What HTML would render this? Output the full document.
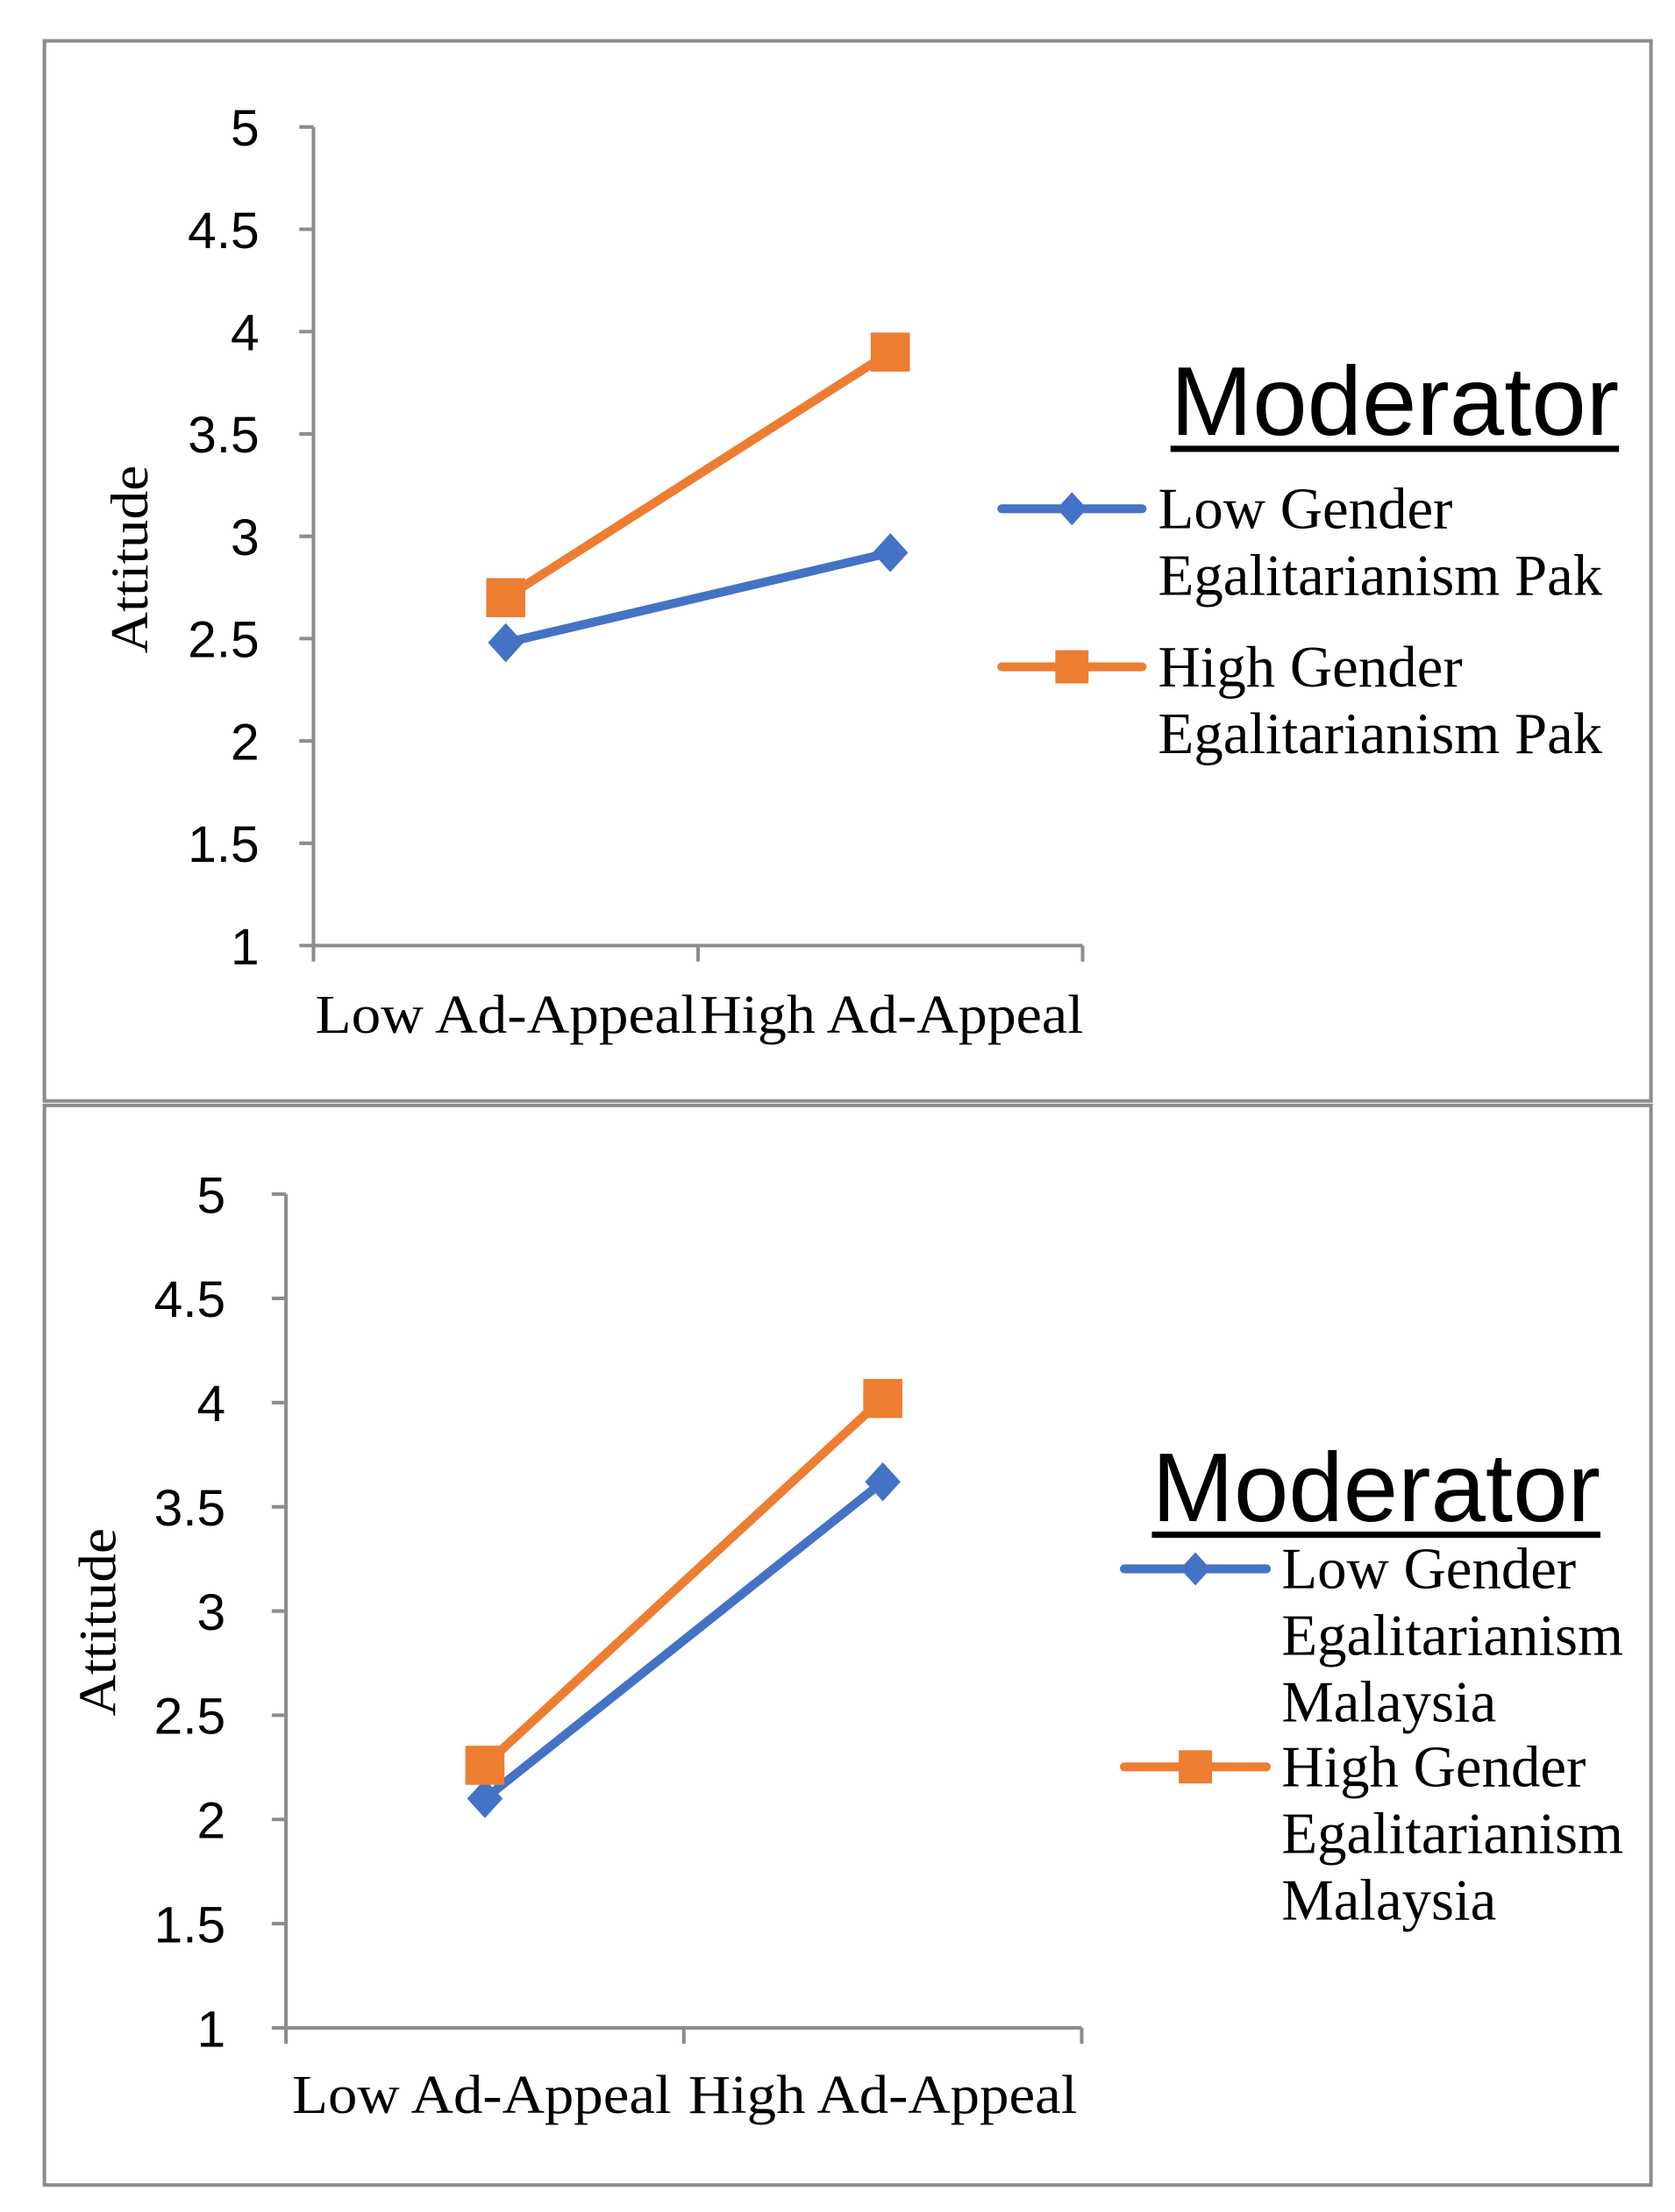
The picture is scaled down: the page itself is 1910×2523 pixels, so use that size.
<!DOCTYPE html>
<html><head><meta charset="utf-8"><style>
html,body{margin:0;padding:0;background:#fff;}
svg{display:block;}
.tick{font-family:"Liberation Sans Narrow","Liberation Sans",sans-serif;font-size:58px;fill:#000;}
.ser{font-family:"Liberation Serif",serif;fill:#000;}
.mod{font-family:"Liberation Sans Narrow","Liberation Sans",sans-serif;font-size:110px;fill:#000;}
</style></head><body>
<svg id="chart" width="1910" height="2523" viewBox="0 0 1910 2523" xmlns="http://www.w3.org/2000/svg">
<rect x="0" y="0" width="1910" height="2523" fill="#fff"/>
<g transform="scale(1.0127)">
<rect x="50" y="46" width="1809" height="1194" fill="none" stroke="#8c8c8c" stroke-width="4"/>
<rect x="50" y="1245" width="1809" height="1216" fill="none" stroke="#8c8c8c" stroke-width="4"/>
<g id="p1"></g>
<g id="p2"></g>
</g>
</svg>
<script>
const categories = ["Low Ad-Appeal", "High Ad-Appeal"];
const yTicks = [1, 1.5, 2, 2.5, 3, 3.5, 4, 4.5, 5];
const yTickLabels = ["1", "1.5", "2", "2.5", "3", "3.5", "4", "4.5", "5"];
const pakLow = [2.48, 2.92];
const pakHigh = [2.70, 3.90];
const malLow = [2.10, 3.62];
const malHigh = [2.26, 4.02];
const pakLegend = [["Low Gender", "Egalitarianism Pak"], ["High Gender", "Egalitarianism Pak"]];
const malLegend = [["Low Gender", "Egalitarianism", "Malaysia"], ["High Gender", "Egalitarianism", "Malaysia"]];

const NS = "http://www.w3.org/2000/svg";
function mk(parent, tag, attrs, text) {
  const e = document.createElementNS(NS, tag);
  for (const k in attrs) e.setAttribute(k, attrs[k]);
  if (text !== undefined) e.textContent = text;
  parent.appendChild(e);
  return e;
}
const BLUE = "#4472C4", ORANGE = "#ED7D31", AX = "#8c8c8c";

function drawChart(g, cfg, lowVals, highVals, legend) {
  const y = v => cfg.y1 + (v - 1) / 4 * (cfg.y5 - cfg.y1);
  const bw = (cfg.x1 - cfg.x0) / categories.length;
  const x = i => cfg.x0 + bw * (i + 0.5);
  let e = mk(g, "line", {x1: cfg.x0, y1: cfg.y5, x2: cfg.x0, y2: cfg.y1, stroke: AX, "stroke-width": 4});
  
  
  e = mk(g, "line", {x1: cfg.x0, y1: cfg.y1, x2: cfg.x1, y2: cfg.y1, stroke: AX, "stroke-width": 4});
  
  
  yTicks.forEach((t, i) => {
    mk(g, "line", {x1: cfg.x0 - 16, y1: y(t), x2: cfg.x0, y2: y(t), stroke: AX, "stroke-width": 4});
    const tx = mk(g, "text", {x: cfg.tickRight, y: y(t) + 21, "text-anchor": "end", class: "tick"}, yTickLabels[i]);
    
    
  });
  for (let i = 0; i <= categories.length; i++) {
    const xx = cfg.x0 + bw * i;
    mk(g, "line", {x1: xx, y1: cfg.y1, x2: xx, y2: cfg.y1 + 18, stroke: AX, "stroke-width": 4});
  }
  categories.forEach((c, i) => {
    const t = mk(g, "text", {x: cfg.catX[i], y: cfg.catY, class: "ser", "font-size": 62, textLength: cfg.catW[i], lengthAdjust: "spacingAndGlyphs"}, c);
    
    
  });
  const at = mk(g, "text", {x: 0, y: 0, class: "ser", "font-size": 60, "text-anchor": "middle", textLength: 212, lengthAdjust: "spacingAndGlyphs", transform: `translate(${cfg.attX},${cfg.attY}) rotate(-90)`}, "Attitude");
  
  
  const series = [[lowVals, BLUE, "diamond"], [highVals, ORANGE, "square"]];
  series.forEach(([vals, col, shape]) => {
    const pts = vals.map((v, i) => `${x(i)},${y(v)}`).join(" ");
    const pl = mk(g, "polyline", {points: pts, fill: "none", stroke: col, "stroke-width": 10, "stroke-linecap": "round"});
    
    
    vals.forEach((v, i) => {
      const m = marker(g, shape, x(i), y(v), col);
      
      
    });
  });
  const mt = mk(g, "text", {x: cfg.modX, y: cfg.modY, class: "mod", textLength: 505, lengthAdjust: "spacingAndGlyphs"}, "Moderator");
  
  
  mk(g, "rect", {x: cfg.modX, y: cfg.modY + 12, width: 505, height: 7, fill: "#000"});
  legend.forEach((lines, k) => {
    const col = k === 0 ? BLUE : ORANGE;
    const ly = cfg.legY[k];
    const lg = mk(g, "g", {});
    
    
    mk(lg, "line", {x1: cfg.legX0, y1: ly, x2: cfg.legX1, y2: ly, stroke: col, "stroke-width": 10, "stroke-linecap": "round"});
    marker(lg, k === 0 ? "diamond" : "square", (cfg.legX0 + cfg.legX1) / 2, ly, col, 0.85);
    lines.forEach((s, j) => {
      mk(lg, "text", {x: cfg.legTX, y: ly + 22 + j * cfg.lineH, class: "ser", "font-size": 66}, s);
    });
  });
}
function marker(g, shape, cx, cy, col, sc) {
  sc = sc || 1;
  if (shape === "square") {
    const s = 44 * sc;
    return mk(g, "rect", {x: cx - s / 2, y: cy - s / 2, width: s, height: s, fill: col});
  }
  const w = 20 * sc, h = 22 * sc;
  return mk(g, "polygon", {points: `${cx},${cy - h} ${cx + w},${cy} ${cx},${cy + h} ${cx - w},${cy}`, fill: col});
}

drawChart(document.getElementById("p1"), {
  x0: 353, x1: 1219, y5: 143, y1: 1065, tickRight: 292,
  catX: [355, 788], catY: 1163, catW: [430, 432],
  attX: 166, attY: 630,
  modX: 1318, modY: 490,
  legX0: 1128, legX1: 1286, legY: [573, 751], legTX: 1304, lineH: 75
}, pakLow, pakHigh, pakLegend);

drawChart(document.getElementById("p2"), {
  x0: 322, x1: 1218, y5: 1345, y1: 2284, tickRight: 254,
  catX: [329, 775], catY: 2380, catW: [427, 438],
  attX: 130, attY: 1827,
  modX: 1297, modY: 1713,
  legX0: 1266, legX1: 1426, legY: [1767, 1990], legTX: 1443, lineH: 75
}, malLow, malHigh, malLegend);
</script>
</body></html>
